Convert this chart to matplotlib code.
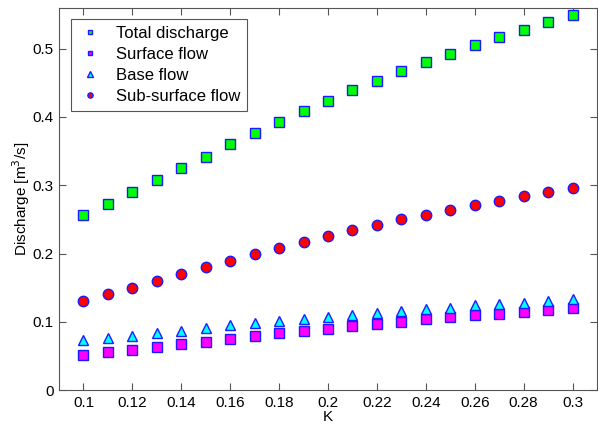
import numpy as np
import matplotlib
matplotlib.use("Agg")
import matplotlib.pyplot as plt

plt.rcParams['font.family'] = ['Liberation Sans', 'DejaVu Sans']

# K values and discharge series
k = [0.10, 0.11, 0.12, 0.13, 0.14, 0.15, 0.16, 0.17, 0.18, 0.19, 0.20,
     0.21, 0.22, 0.23, 0.24, 0.25, 0.26, 0.27, 0.28, 0.29, 0.30]
total = [0.256, 0.272, 0.290, 0.307, 0.325, 0.342, 0.360, 0.377, 0.393, 0.409, 0.424,
         0.439, 0.453, 0.467, 0.480, 0.492, 0.505, 0.517, 0.528, 0.539, 0.549]
surface = [0.052, 0.056, 0.059, 0.063, 0.067, 0.071, 0.075, 0.079, 0.083, 0.087, 0.090,
           0.094, 0.097, 0.100, 0.104, 0.107, 0.110, 0.112, 0.115, 0.118, 0.121]
base = [0.073, 0.077, 0.080, 0.084, 0.087, 0.091, 0.095, 0.098, 0.101, 0.104, 0.107,
        0.110, 0.113, 0.116, 0.119, 0.121, 0.124, 0.126, 0.128, 0.131, 0.133]
subsurface = [0.131, 0.141, 0.150, 0.160, 0.170, 0.180, 0.189, 0.199, 0.208, 0.217, 0.226,
              0.234, 0.242, 0.250, 0.257, 0.264, 0.271, 0.277, 0.284, 0.290, 0.296]
xticks = [0.10, 0.12, 0.14, 0.16, 0.18, 0.20, 0.22, 0.24, 0.26, 0.28, 0.30]
xticklabels = ['0.1', '0.12', '0.14', '0.16', '0.18', '0.2', '0.22', '0.24', '0.26', '0.28', '0.3']
yticks = [0, 0.1, 0.2, 0.3, 0.4, 0.5]

fig = plt.figure(figsize=(5.98, 4.25), dpi=100)
ax = fig.add_axes([0.0987, 0.082, 0.8997, 0.9])

edge = '#1a1aff'
ax.plot(k, total, 's', ms=6.5, mfc='#00ff00', mec=edge, mew=1, label='Total discharge')
ax.plot(k, surface, 's', ms=6.5, mfc='#ff00ff', mec=edge, mew=1, label='Surface flow')
ax.plot(k, base, '^', ms=7.5, mfc='#00ffff', mec=edge, mew=1, label='Base flow')
ax.plot(k, subsurface, 'o', ms=7.5, mfc='#ff0000', mec=edge, mew=1, label='Sub-surface flow')

ax.set_xlim(0.09, 0.31)
ax.set_ylim(0, 0.56)
ax.set_xticks(xticks)
ax.set_xticklabels(xticklabels)
ax.set_yticks(yticks)
ax.set_yticklabels(['0', '0.1', '0.2', '0.3', '0.4', '0.5'])
ax.tick_params(direction='in', top=True, right=True, length=5, labelsize=11,
               color='#555555', pad=4)
for s in ax.spines.values():
    s.set_color('#555555')
    s.set_linewidth(0.8)

ax.set_xlabel('K', fontsize=11, labelpad=0)
ax.set_ylabel('Discharge [m$^3$/s]', fontsize=11, labelpad=0)

leg = ax.legend(loc='upper left', fontsize=12, markerscale=0.5, handletextpad=0.8,
                borderaxespad=0.7, fancybox=False, framealpha=1, edgecolor='#555555',
                labelspacing=0.36, handlelength=1.5, borderpad=0.4)
leg.get_frame().set_linewidth(0.8)

fig.savefig('out.png', dpi=100)
